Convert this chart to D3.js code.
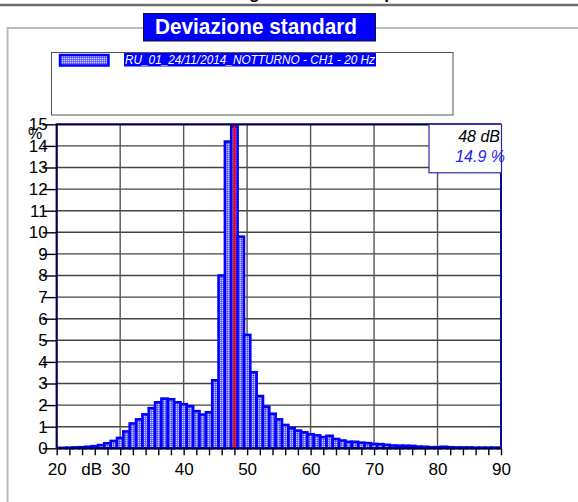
<!DOCTYPE html>
<html>
<head>
<meta charset="utf-8">
<script src="https://cdn.jsdelivr.net/npm/d3@7"></script>
<style>
  html, body { margin: 0; padding: 0; background: #fff; }
  svg { display: block; }
  text { font-family: "Liberation Sans", Arial, sans-serif; }
</style>
</head>
<body>
<svg id="chart" width="578" height="502"></svg>
<script>
// Level classes (dB, 1 dB bins centred on each value)
const levels = d3.range(20, 91);
// Percentage of time in each class
const percent = [
  0.01, 0.02, 0.03, 0.04, 0.05, 0.07, 0.10, 0.15, 0.23, 0.34,
  0.48, 0.78, 1.15, 1.34, 1.57, 1.86, 2.13, 2.30, 2.27, 2.13,
  2.04, 1.95, 1.72, 1.56, 1.67, 3.15, 8.00, 14.20, 14.90, 9.80,
  5.25, 3.52, 2.42, 1.92, 1.60, 1.34, 1.08, 0.93, 0.82, 0.74,
  0.65, 0.60, 0.52, 0.58, 0.43, 0.36, 0.30, 0.30, 0.26, 0.24,
  0.20, 0.19, 0.16, 0.13, 0.12, 0.12, 0.11, 0.08, 0.07, 0.05,
  0.05, 0.07, 0.05, 0.04, 0.04, 0.04, 0.03, 0.03, 0.03, 0.03,
  0.02
];
const yTicks = d3.range(0, 16);
const xTicks = d3.range(20, 91, 2);
const xLabels = [20, 30, 40, 50, 60, 70, 80, 90];
const xGrid = [30, 40, 50, 60, 70, 80];
const yGrid = d3.range(1, 15);
const modeLevel = 48;
const modePercent = 14.9;
const chartTitle = "Deviazione standard";
const seriesName = "RU_01_24/11/2014_NOTTURNO - CH1 - 20 Hz";
const pageHeading = "Istogramma dei dati percentuali";

const svg = d3.select("#chart");
const plot = { left: 56.7, right: 501, top: 124.3, bottom: 448.3 };

const x = d3.scaleLinear().domain([20, 90]).range([plot.left, plot.right]);
const y = d3.scaleLinear().domain([0, 15]).range([plot.bottom, plot.top]);

// Dithered fill used for bars and legend swatch
const defs = svg.append("defs");
const pat = defs.append("pattern").attr("id", "dither")
  .attr("width", 2).attr("height", 2).attr("patternUnits", "userSpaceOnUse");
pat.append("rect").attr("width", 2).attr("height", 2).attr("fill", "#7a7af2");
pat.append("rect").attr("width", 1).attr("height", 1).attr("fill", "#c8c8ff");
pat.append("rect").attr("x", 1).attr("y", 1).attr("width", 1).attr("height", 1).attr("fill", "#5a5aee");

defs.append("clipPath").attr("id", "plotClip").append("rect")
  .attr("x", plot.left).attr("y", plot.top - 2)
  .attr("width", plot.right - plot.left).attr("height", plot.bottom - plot.top + 4);

// Page heading (clipped at the top edge) and separator rule
svg.append("text").attr("x", 219).attr("y", -1)
  .attr("font-size", 17).attr("font-weight", "bold").attr("fill", "#000")
  .text(pageHeading);
svg.append("line").attr("x1", 0).attr("x2", 578).attr("y1", 5).attr("y2", 5)
  .attr("stroke", "#6e6e6e").attr("stroke-width", 2.5);

// Outer panel frame
svg.append("path")
  .attr("d", "M143,28 H7.5 V502 M376,28 H578")
  .attr("fill", "none").attr("stroke", "#bdbdbd").attr("stroke-width", 2);

// Title box
svg.append("rect").attr("x", 143.5).attr("y", 13.5).attr("width", 232).attr("height", 27.5)
  .attr("fill", "#0000ff").attr("stroke", "#101030").attr("stroke-width", 1);
svg.append("text").attr("x", 155).attr("y", 34)
  .attr("font-size", 22).attr("font-weight", "bold").attr("fill", "#fff")
  .attr("textLength", 202).attr("lengthAdjust", "spacingAndGlyphs")
  .text(chartTitle);

// Legend box
svg.append("rect").attr("x", 51.5).attr("y", 52.5).attr("width", 401.5).attr("height", 62.5)
  .attr("fill", "#fff").attr("stroke", "#555").attr("stroke-width", 1);
svg.append("rect").attr("x", 60).attr("y", 55).attr("width", 48.5).attr("height", 10.5)
  .attr("fill", "url(#dither)").attr("stroke", "#0000ff").attr("stroke-width", 2.5);
svg.append("rect").attr("x", 124).attr("y", 53).attr("width", 252).attr("height", 13.5)
  .attr("fill", "#0000ff");
svg.append("text").attr("x", 125).attr("y", 64)
  .attr("font-size", 12).attr("font-style", "italic").attr("fill", "#fff")
  .attr("textLength", 250).attr("lengthAdjust", "spacingAndGlyphs")
  .text(seriesName);

// Gridlines
const g = svg.append("g");
g.selectAll("line.hgrid").data(yGrid).join("line").attr("class", "hgrid")
  .attr("x1", plot.left).attr("x2", plot.right)
  .attr("y1", d => y(d)).attr("y2", d => y(d))
  .attr("stroke", "#444").attr("stroke-width", 1.4);
g.selectAll("line.vgrid").data(xGrid).join("line").attr("class", "vgrid")
  .attr("x1", d => x(d)).attr("x2", d => x(d))
  .attr("y1", plot.top).attr("y2", plot.bottom)
  .attr("stroke", "#555").attr("stroke-width", 1.4);

// Bars
const bars = levels.map((lv, i) => ({ lv, v: percent[i] }));
svg.append("g").attr("clip-path", "url(#plotClip)")
  .selectAll("rect").data(bars).join("rect")
  .attr("x", d => x(d.lv - 0.5))
  .attr("width", d => x(d.lv + 0.5) - x(d.lv - 0.5))
  .attr("y", d => y(d.v))
  .attr("height", d => y(0) - y(d.v))
  .attr("fill", "url(#dither)")
  .attr("stroke", "#0000ff").attr("stroke-width", 2.6);

// Marker at the modal level
svg.append("line")
  .attr("x1", x(modeLevel)).attr("x2", x(modeLevel))
  .attr("y1", plot.top).attr("y2", plot.bottom)
  .attr("stroke", "#ff0000").attr("stroke-width", 2.4);

// Plot frame
svg.append("path")
  .attr("d", `M${plot.left},${plot.bottom} V${plot.top} H${plot.right}`)
  .attr("fill", "none").attr("stroke", "#000050").attr("stroke-width", 2.2);
svg.append("line")
  .attr("x1", plot.right).attr("x2", plot.right).attr("y1", plot.top).attr("y2", plot.bottom)
  .attr("stroke", "#0a0aa0").attr("stroke-width", 2);

// Y axis
const yAxis = d3.axisLeft(y).tickValues(yTicks).tickSize(14).tickPadding(-5)
  .tickFormat(d3.format("d"));
const ya = svg.append("g").attr("transform", `translate(${plot.left},0)`).call(yAxis);
ya.select(".domain").remove();
ya.selectAll(".tick line").attr("stroke", "#000").attr("stroke-width", 1.4);
ya.selectAll(".tick text").attr("font-size", 17).attr("fill", "#000")
  .attr("font-family", "Liberation Sans, Arial, sans-serif");
svg.append("text").attr("x", 35).attr("y", 139).attr("text-anchor", "middle")
  .attr("font-size", 16).attr("fill", "#000").text("%");

// X axis
const xAxis = d3.axisBottom(x).tickValues(xTicks).tickSize(7).tickPadding(8)
  .tickFormat(d => xLabels.includes(d) ? d : "");
const xa = svg.append("g").attr("transform", `translate(0,${plot.bottom})`).call(xAxis);
xa.select(".domain").attr("stroke", "#000").attr("stroke-width", 1.4)
  .attr("d", `M${plot.left},0H${plot.right}`);
xa.selectAll(".tick line").attr("stroke", "#000").attr("stroke-width", 1.4);
xa.selectAll(".tick text").attr("font-size", 17).attr("fill", "#000")
  .attr("font-family", "Liberation Sans, Arial, sans-serif");
svg.append("text").attr("x", x(25.5)).attr("y", plot.bottom + 27).attr("text-anchor", "middle")
  .attr("font-size", 17).attr("fill", "#000").text("dB");

// Modal value box
svg.append("rect").attr("x", 429).attr("y", plot.top).attr("width", 72.5).attr("height", 48.5)
  .attr("fill", "#fff").attr("stroke", "#2a2aa8").attr("stroke-width", 1.2);
svg.append("text").attr("x", 500).attr("y", 142).attr("text-anchor", "end")
  .attr("font-size", 16).attr("font-style", "italic").attr("fill", "#000")
  .text(`${modeLevel} dB`);
svg.append("text").attr("x", 505).attr("y", 162).attr("text-anchor", "end")
  .attr("font-size", 16).attr("font-style", "italic").attr("fill", "#2020f0")
  .text(`${modePercent} %`);
</script>
</body>
</html>
